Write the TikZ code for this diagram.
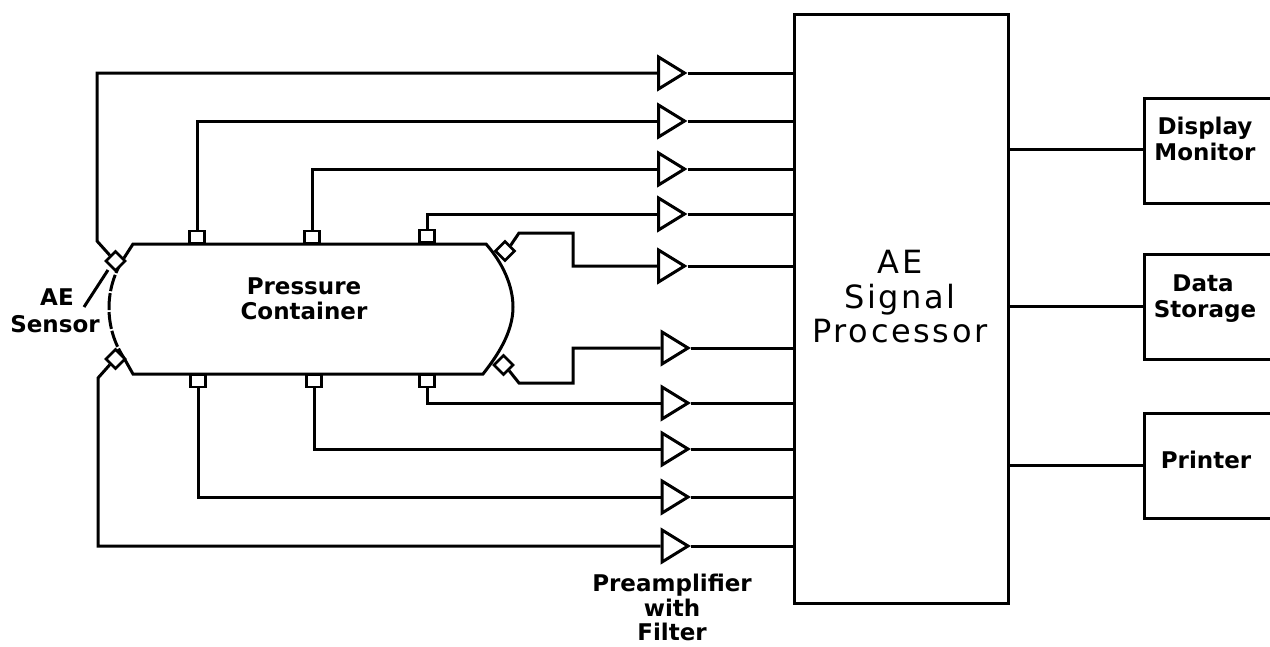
\documentclass[tikz,border=0pt]{standalone}
\usepackage{fontspec}
\setmainfont{DejaVu Sans}
\newfontfamily\bigfont[LetterSpace=8]{DejaVu Sans}
\usetikzlibrary{shapes.geometric}
\tikzset{
  ln/.style={line width=3pt,line join=miter},
  amp/.style={draw,line width=3pt,fill=white,shape=isosceles triangle,isosceles triangle apex angle=58,isosceles triangle stretches,minimum width=32pt,minimum height=26pt,inner sep=0pt,anchor=lower side},
  sq/.style={draw,line width=2.6pt,fill=white,minimum width=15pt,minimum height=12pt,inner sep=0pt},
  dia/.style={draw,line width=2.6pt,fill=white,shape=diamond,minimum width=20pt,minimum height=20pt,inner sep=0pt},
  box/.style={draw,line width=3pt,anchor=north west,inner sep=0pt},
  lab/.style={align=center,font=\fontsize{23pt}{25.5pt}\selectfont\bfseries,inner sep=0pt},
  prelab/.style={align=center,font=\fontsize{23pt}{24.5pt}\selectfont\bfseries,inner sep=0pt},
  big/.style={align=center,font=\fontsize{32pt}{34.5pt}\bigfont\selectfont,inner sep=0pt},
}
\begin{document}
\begin{tikzpicture}[x=1pt,y=-1pt]
\useasboundingbox (0,0) rectangle (1270,646);
% vessel
\draw[ln] (124,258) -- (133,244) -- (486,244)
  .. controls (502,262) and (513,285) .. (513,307)
  .. controls (513,332) and (498,355) .. (483,374) -- (133,374) -- (124,358);
\draw[ln,dash pattern=on 17pt off 2pt] (124,258) .. controls (104,288) and (104,328) .. (124,358);
% processor & peripherals
\node[draw,line width=3pt,anchor=north west,minimum width=214pt,minimum height=589pt,inner sep=0pt] (proc) at (793,13) {};
\node[big] (proctext) at (900,297) {AE\\Signal\\Processor};
\node[box,minimum width=134pt,minimum height=105pt] (disp) at (1143,97) {};
\node[box,minimum width=134pt,minimum height=105pt] (stor) at (1143,253) {};
\node[box,minimum width=134pt,minimum height=105pt] (prnt) at (1143,412) {};
\node[lab] (t1) at (1205,139) {Display\\Monitor};
\node[lab] (t2) at (1203,283) {Data};
\node[lab] (t3) at (1205,311) {Storage};
\node[lab] (t4) at (1206,460) {Printer};
\coordinate (o1) at (1007,149); \coordinate (o1b) at (1143,149);
\coordinate (o2) at (1007,306); \coordinate (o2b) at (1143,306);
\coordinate (o3) at (1007,465); \coordinate (o3b) at (1143,465);
\draw[ln] (o1) -- (o1b);
\draw[ln] (o2) -- (o2b);
\draw[ln] (o3) -- (o3b);
% amplifiers
\node[amp] (a1) at (657,73) {};
\node[amp] (a2) at (657,121) {};
\node[amp] (a3) at (657,169) {};
\node[amp] (a4) at (657,214) {};
\node[amp] (a5) at (657,266) {};
\node[amp] (a6) at (660.5,348) {};
\node[amp] (a7) at (660.5,403) {};
\node[amp] (a8) at (660.5,449) {};
\node[amp] (a9) at (660.5,497) {};
\node[amp] (a10) at (660.5,546) {};
\foreach \i in {1,...,10} {\draw[ln] (a\i.apex) -- (a\i.apex -| proc.west);}
% sensors
\node[sq] (s1) at (197,237) {};
\node[sq] (s2) at (312,237) {};
\node[sq] (s3) at (427,236) {};
\node[sq] (s4) at (198,381) {};
\node[sq] (s5) at (314,381) {};
\node[sq] (s6) at (427,381) {};
\node[dia] (d1) at (115.5,261) {};
\node[dia] (d2) at (115.5,359) {};
\node[dia] (d3) at (505,251) {};
\node[dia] (d4) at (503.5,365) {};
\draw[ln] (s1.north) |- (a2.lower side);
\draw[ln] (s2.north) |- (a3.lower side);
\draw[ln] (s3.north) |- (a4.lower side);
\draw[ln] (s4.south) |- (a9.lower side);
\draw[ln] (s5.south) |- (a8.lower side);
\draw[ln] (s6.south) |- (a7.lower side);
\coordinate (c1) at (97,241); \coordinate (c1b) at (97,73);
\coordinate (c2) at (98,378); \coordinate (c2b) at (98,546);
\draw[ln] (d1.north west) -- (c1) -- (c1b) -- (a1.lower side);
\draw[ln] (d2.south west) -- (c2) -- (c2b) -- (a10.lower side);
\coordinate (c3) at (519,233); \coordinate (c3b) at (573,233); \coordinate (c3c) at (573,266);
\coordinate (c4) at (519,383); \coordinate (c4b) at (573,383); \coordinate (c4c) at (573,348);
\draw[ln] (d3.north east) -- (c3) -- (c3b) -- (c3c) -- (a5.lower side);
\draw[ln] (d4.south east) -- (c4) -- (c4b) -- (c4c) -- (a6.lower side);
% labels
\node[lab] (pc) at (304,299) {Pressure\\Container};
\node[lab] (ae) at (57,297) {AE};
\node[lab] (sn) at (55,324) {Sensor};
\coordinate (aeend) at (84,307);
\coordinate (aetop) at (108,270);
\draw[ln] (aeend) -- (aetop);
\node[prelab] (pre) at (672,607.5) {Preamplifier\\with\\Filter};
\end{tikzpicture}
\end{document}
